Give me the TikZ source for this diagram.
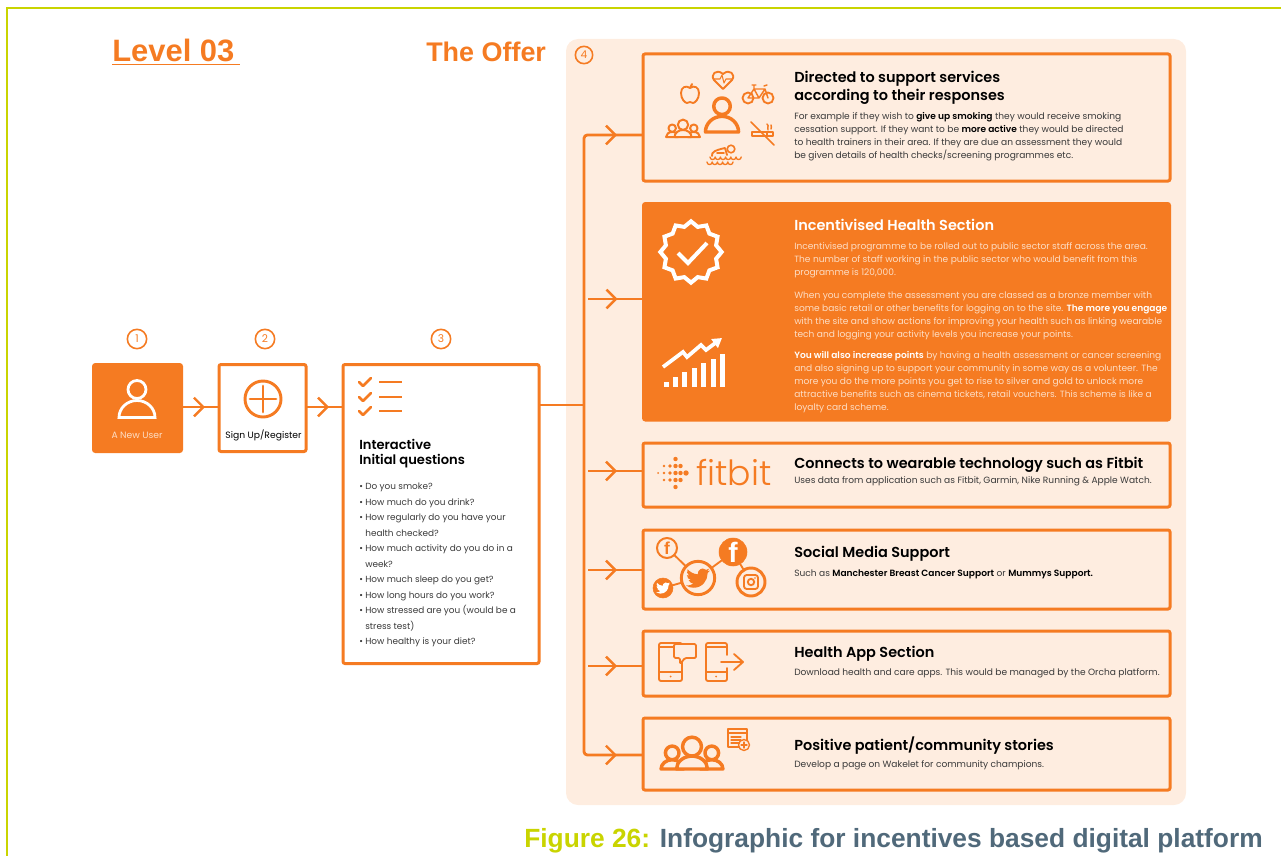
\documentclass[tikz,border=0pt]{standalone}
\usepackage{fontspec}
\setmainfont{Poppins}[BoldFont={Poppins SemiBold}]
\newfontfamily\headfont{Liberation Sans}
\newfontfamily\logofont{Poppins Light}
\usetikzlibrary{arrows.meta,decorations.markings,shapes.geometric}
\definecolor{brand}{HTML}{F57B22}
\definecolor{paper}{HTML}{FEEDE0}
\definecolor{lime}{HTML}{C9D400}
\definecolor{slate}{HTML}{50697A}
\definecolor{inktext}{HTML}{3A3A3A}
\definecolor{peach}{HTML}{FDDDC4}
\newcommand\bodyfont{\fontsize{6.8}{9.75}\selectfont}
\newcommand\titlefont{\fontsize{10.85}{13.5}\selectfont\bfseries}
\newcommand\dk[1]{\textcolor{black}{\bfseries #1}}
\newcommand\wh[1]{\textcolor{white}{\bfseries #1}}

\begin{document}
\begin{tikzpicture}[x=.75pt, y=-.75pt,
	sized/.style 2 args = {minimum width=#1*.75pt, minimum height=#2*.75pt, anchor=north west, inner sep=0, outer sep=0},
	main/.style = {draw=brand, line width=2.25pt, rounded corners=1.5pt},
	solid/.style = {main, fill=brand},
	num/.style = {draw=brand, circle, line width=1.2pt, minimum size=14.5pt, inner sep=0, text=brand, font=\fontsize{8}{9}\selectfont},
	title/.style = {anchor=north west, inner sep=0, align=left, font=\titlefont, text=black},
	body/.style = {anchor=north west, inner sep=0, align=left, font=\bodyfont, text=inktext},
	head/.style = {anchor=base west, inner sep=0, text=brand, font=\headfont\bfseries\fontsize{20.2}{24}\selectfont},
	wire/.style = {draw=brand, line width=2.1pt, line join=round},
	link/.style = {wire, postaction={decorate}, decoration={markings, mark=at position -#1 with {\arrow[line cap=round]{Straight Barb[length=7pt, width=14pt, line width=1.8pt]}}}},
	icon/.style = {draw=brand, line width=1.4pt, line join=round, line cap=round},
	fat/.style = {icon, line width=2.2pt},
	disc/.style = {draw=brand, circle, inner sep=0, outer sep=0, text=brand, font=\headfont\bfseries},
	person/.pic = {
		\path[pic actions] (0,-28) circle (9);
		\path[pic actions] (-18,0) arc[start angle=180, end angle=360, x radius=18, y radius=17] -- cycle;
	},
	crowd/.pic = {
		\foreach \dx/\s in {-23/.72, 23/.72, 0/1} {
			\path[pic actions, fill=paper] (\dx,-\s*26) circle (\s*11);
			\path[pic actions, fill=paper] (\dx-\s*18,0) arc[start angle=180, end angle=360, x radius=\s*18, y radius=\s*15] -- cycle;
		}
	},
	bird/.pic = {
		\path[pic actions] (11.95,-7.43) -- (9.13,-6.65) -- (11.29,-9.38) -- (8.16,-8.19)
			.. controls (6.5,-10.2) and (3,-10.2) .. (.4,-6.9) -- (-.22,-3.71)
			.. controls (-4.31,-3.9) and (-7.93,-5.87) .. (-10.36,-8.84)
			.. controls (-11.5,-6.5) and (-11,-3.9) .. (-8.84,-2.27)
			-- (-11.07,-2.88) .. controls (-11,-.5) and (-9.5,1.4) .. (-7.12,2)
			-- (-9.33,2.09) .. controls (-8.6,4) and (-6.7,5.4) .. (-4.73,5.5)
			.. controls (-6.6,7) and (-9,7.7) .. (-12,7.54)
			.. controls (-9.8,9) and (-7.2,9.75) .. (-4.44,9.75)
			.. controls (4.61,9.75) and (9.56,2.25) .. (9.56,-4.23)
			-- (9.54,-4.86) -- (12,-7.41) -- cycle;
	}]
	\useasboundingbox (0,0) rectangle (1281,856);
	\draw[draw=lime, line width=2.2pt] (7,856) -- (7,8) -- (1281,8);
	\node[head, font=\headfont\bfseries\fontsize{23.2}{24}\selectfont] (level) at (112,62) {\underline{Level 03\hspace{4.5pt}}};
	\node[head] (offer) at (426,62) {The Offer};
	\node[sized={620}{766}, fill=paper, rounded corners=9pt] (panel) at (566,39) {};

	\node[solid, sized={88}{87}] (user) at (93.5,364.5) {};
	\node[main, fill=white, sized={87}{87}] (signup) at (219,364.5) {};
	\node[main, fill=white, sized={196}{299}] (quest) at (343,364.5) {};
	\node[main, sized={527}{127}] (box1) at (643,54) {};
	\node[solid, sized={526}{216.5}] (box2) at (643.5,203.5) {};
	\node[main, sized={527}{64}] (box3) at (643,443) {};
	\node[main, sized={527}{79}] (box4) at (643,530) {};
	\node[main, sized={527}{65}] (box5) at (643,631) {};
	\node[main, sized={527}{72}] (box6) at (643,718) {};

	\node[num] (n1) at (137,339) {1};
	\node[num] (n2) at (265,339) {2};
	\node[num] (n3) at (441,339) {3};
	\node[num, minimum size=13pt] (n4) at (584,55) {4};

	\coordinate (b0) at (584,405);
	\coordinate (b1) at (584,135);
	\coordinate (b2) at (584,299);
	\coordinate (b3) at (584,471);
	\coordinate (b4) at (584,570);
	\coordinate (b5) at (584,666);
	\coordinate (b6) at (584,755);
	\draw[link=10.5pt] (user.east |- 0,407) -- (signup.west |- 0,407);
	\draw[link=10.5pt] (signup.east |- 0,407) -- (quest.west |- 0,407);
	\draw[wire] (quest.east |- b0) -- (b0);
	\draw[wire, rounded corners=2.5pt] (box1.west |- b1) -- (b1) -- (b6) -- (box6.west |- b6);
	\foreach \i in {1,...,6} {
		\draw[link=19.5pt, shorten <=3pt] (b\i) -- (box\i.west |- b\i);
	}

	\pic[draw=white, line width=2.1pt] at (137,417.5) {person};
	\node[anchor=center, inner sep=0, text=peach, font=\fontsize{6.9}{9}\selectfont] (lab1) at (137,435) {A New User};
	\draw[fat] (263,399) circle (18);
	\draw[fat] (250,399) -- (276,399) (263,386) -- (263,412);
	\node[anchor=center, inner sep=0, text=black, font=\fontsize{6.9}{9}\selectfont] (lab2) at (263.5,435) {Sign Up/Register};

	\foreach \y in {382,397,411} {
		\draw[fat, line width=1.9pt] (359,\y) -- (363,\y+4) -- (371,\y-4);
		\draw[fat, line cap=butt] (379,\y) -- (402,\y);
	}
	\node[title, font=\fontsize{9.8}{11.25}\selectfont\bfseries] (qtitle) at (359,438.5) {Interactive\\Initial questions};
	\node[body, font=\fontsize{6.67}{11.6}\selectfont] (qlist) at (359,483) {\textbullet\ Do you smoke?\\
		\textbullet\ How much do you drink?\\
		\textbullet\ How regularly do you have your\\
		\phantom{\textbullet\ }health checked?\\
		\textbullet\ How much activity do you do in a\\
		\phantom{\textbullet\ }week?\\
		\textbullet\ How much sleep do you get?\\
		\textbullet\ How long hours do you work?\\
		\textbullet\ How stressed are you (would be a\\
		\phantom{\textbullet\ }stress test)\\
		\textbullet\ How healthy is your diet?};

	\pic[fat, line width=2.6pt, scale=.92] at (722,132) {person};
	\draw[icon] (690,88) .. controls (686,85) and (681,87) .. (681,93) .. controls (681,99) and (685,103) .. (687,103) .. controls (688,103) and (689,102) .. (690,102) .. controls (691,102) and (692,103) .. (693,103) .. controls (695,103) and (699,99) .. (699,93) .. controls (699,87) and (694,85) .. (690,88) -- (692,84);
	\draw[icon] (723,89) -- (714,80) .. controls (710,75) and (716,68) .. (723,74) .. controls (730,68) and (736,75) .. (732,80) -- cycle;
	\draw[icon, line width=.8pt] (714,79) -- (720,79) -- (722,75) -- (724,83) -- (726,79) -- (732,79);
	\draw[icon] (748,98) circle (5.5) (768,98) circle (5.5);
	\draw[icon, line width=1.1pt] (748,98) -- (754,89) -- (765,89) -- (768,98) (754,89) -- (759,98) -- (748,98) (759,98) -- (765,89) (752,85) -- (756,85) (754,85) -- (754,89) (764,86) -- (767,85);
	\pic[icon, line width=1.5pt, scale=.47] at (683,137) {crowd};
	\draw[icon, line width=1.2pt] (752,132) rectangle (773,136) (767,132) -- (767,136);
	\draw[icon, line width=1.1pt] (768,130) .. controls (766,127) and (770,127) .. (767,124) (771,129) .. controls (771,127) and (772,127) .. (771,125);
	\draw[icon, line width=1.2pt] (751,122) -- (774,145);
	\draw[icon, line width=1.2pt] (731,149) circle (3.8);
	\draw[icon] (712,156) .. controls (711,152) and (716,150) .. (725,148) -- (727,155) (717,153) -- (724,153);
	\draw[icon, line width=1pt] (710,157) \foreach \k in {1,...,6} {arc[start angle=180, end angle=0, radius=2.6]};
	\draw[icon, line width=1pt] (707,162) \foreach \k in {1,...,5} {arc[start angle=180, end angle=0, radius=2.6]};
	\node[title] (t1) at (794,70.5) {Directed to support services\\according to their responses};
	\node[body] (d1) at (794,112.5) {For example if they wish to \dk{give up smoking} they would receive smoking\\
		cessation support. If they want to be \dk{more active} they would be directed\\
		to health trainers in their area. If they are due an assessment they would\\
		be given details of health checks/screening programmes etc.};

	\node[star, star points=12, star point ratio=1.18, draw=white, line width=3pt, minimum size=46pt, inner sep=0] (badge) at (691,252) {};
	\draw[draw=white, line width=3pt] (678,253) -- (688,263) -- (707,243);
	\foreach \x/\t in {666/382,675/377,684/372,694/368,703/363,713/359,722/354} {
		\fill[white] (\x-2.5,\t) rectangle (\x+2.5,387);
	}
	\draw[draw=white, line width=2.8pt, -{Triangle[length=7pt, width=8pt]}] (663,367) -- (683,352) -- (687,357) -- (701,345) -- (706,350) -- (722,338);
	\node[title, text=white] (t2) at (794,218.5) {Incentivised Health Section};
	\node[body, text=peach] (d2a) at (794,242) {Incentivised programme to be rolled out to public sector staff across the area.\\
		The number of staff working in the public sector who would benefit from this\\
		programme is 120,000.};
	\node[body, text=peach] (d2b) at (794,291) {When you complete the assessment you are classed as a bronze member with\\
		some basic retail or other benefits for logging on to the site. \wh{The more you engage}\\
		with the site and show actions for improving your health such as linking wearable\\
		tech and logging your activity levels you increase your points.};
	\node[body, text=peach] (d2c) at (794,351) {\wh{You will also increase points} by having a health assessment or cancer screening\\
		and also signing up to support your community in some way as a volunteer. The\\
		more you do the more points you get to rise to silver and gold to unlock more\\
		attractive benefits such as cinema tickets, retail vouchers. This scheme is like a\\
		loyalty card scheme.};

	\foreach \x/\r/\rows in {658/1/0, 664/1.4/{-7,0,7}, 670/1.8/{-7,0,7}, 675.5/2.2/{-14,-7,0,7,14}, 680.5/2.2/{-7,0,7}, 686/2.7/0} {
		\foreach \y in \rows {
			\fill[brand] (\x,473+\y) circle (\r);
		}
	}
	\node[anchor=base west, inner sep=0, text=brand, font=\logofont\fontsize{26}{28}\selectfont] (fitbit) at (696,485) {fitbit};
	\node[title] (t3) at (794,457) {Connects to wearable technology such as Fitbit};
	\node[body] (d3) at (794,476.5) {Uses data from application such as Fitbit, Garmin, Nike Running \& Apple Watch.};

	\node[disc, line width=2.2pt, minimum size=25pt] (tw) at (698,578) {};
	\node[disc, line width=1.5pt, minimum size=15pt, font=\headfont\bfseries\fontsize{13}{13}\selectfont] (fb1) at (667,548) {f};
	\node[disc, fill=brand, minimum size=15pt] (tw2) at (663,588) {};
	\node[disc, fill=brand, text=white, minimum size=21pt, font=\headfont\bfseries\fontsize{21}{21}\selectfont] (fb2) at (733,552) {f};
	\node[disc, line width=2.2pt, minimum size=21pt] (ig) at (751,582) {};
	\draw[icon] (fb1) -- (tw);
	\draw[icon] (tw2) -- (tw);
	\draw[icon] (tw) -- (fb2);
	\draw[icon] (fb2) -- (ig);
	\pic[fill=brand, scale=1.0] at (698,578) {bird};
	\pic[fill=white, scale=.58] at (663,588) {bird};
	\draw[icon, rounded corners=2pt] (744,575) rectangle (758,589);
	\draw[icon] (751,582) circle (3.2);
	\fill[brand] (755,578) circle (.9);
	\node[title] (t4) at (794,546) {Social Media Support};
	\node[body] (d4) at (794,569.5) {Such as \dk{Manchester Breast Cancer Support} or \dk{Mummys Support.}};

	\draw[icon, rounded corners=1.5pt] (659,643) rectangle (682,681);
	\draw[icon] (659,647) -- (682,647) (659,672) -- (682,672);
	\fill[brand] (670.5,676.5) circle (1);
	\draw[icon, fill=paper, rounded corners=1pt] (674,644) -- (696,644) -- (696,658) -- (685,658) -- (680,664) -- (680,658) -- (674,658) -- cycle;
	\draw[icon, rounded corners=1.5pt] (727,655) -- (727,643) -- (706,643) -- (706,681) -- (727,681) -- (727,668);
	\draw[icon] (706,647) -- (727,647) (706,672) -- (727,672);
	\fill[brand] (716,676.5) circle (1);
	\draw[icon] (721,662) -- (743,662) (734,654) -- (743,662) -- (734,670);
	\node[title] (t5) at (794,646) {Health App Section};
	\node[body] (d5) at (794,668.5) {Download health and care apps. This would be managed by the Orcha platform.};

	\pic[fat, line width=2.6pt, scale=.86] at (692,769) {crowd};
	\draw[icon, line width=1pt] (728,729) rectangle (747,747);
	\draw[icon, line width=1pt] (728,733) -- (747,733);
	\foreach \y in {737,740,743} {
		\draw[icon, line width=.9pt] (731,\y) -- (741,\y);
	}
	\draw[icon, line width=1pt, fill=paper] (744,745) circle (5.5);
	\draw[icon, line width=1pt] (741,745) -- (747,745) (744,742) -- (744,748);
	\node[title] (t6) at (794,737) {Positive patient/community stories};
	\node[body] (d6) at (794,760.5) {Develop a page on Wakelet for community champions.};

	\node[anchor=base west, inner sep=0, font=\headfont\bfseries\fontsize{19.75}{22}\selectfont] (cap) at (524,847) {\textcolor{lime}{Figure 26:} \textcolor{slate}{Infographic for incentives based digital platform}};
\end{tikzpicture}
\end{document}
